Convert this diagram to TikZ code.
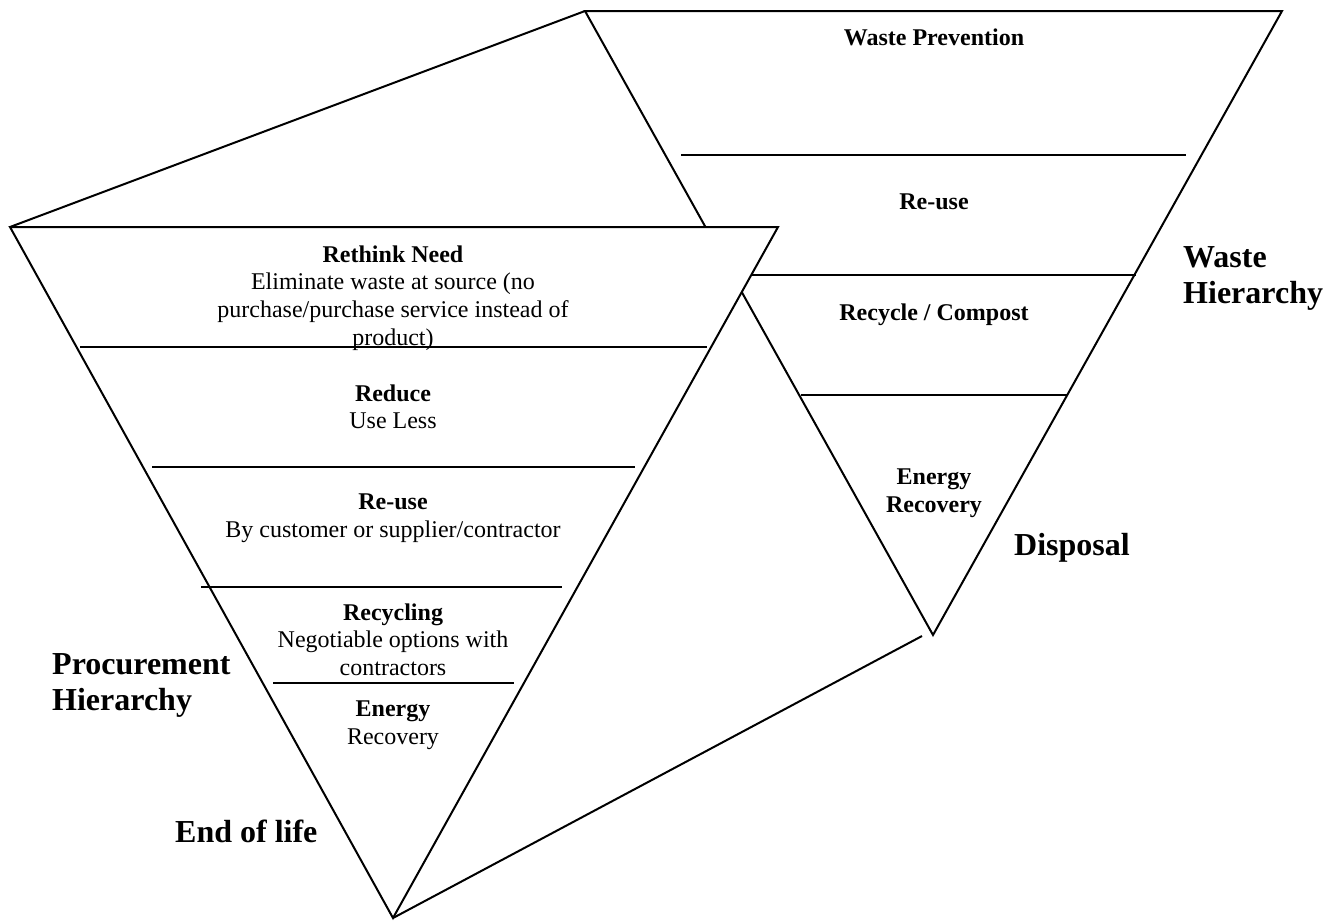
\documentclass[tikz,border=0pt]{standalone}
\usepackage{fontspec}
\setmainfont{Liberation Serif}
\begin{document}
\begin{tikzpicture}[x=1pt,y=-1pt,
  edge/.style={line width=2pt,line join=miter},
  small/.style={font=\fontsize{24}{27.6}\selectfont,align=center,inner sep=0pt,anchor=north},
  smallb/.style={small,font=\fontsize{24}{27.6}\selectfont\bfseries},
  big/.style={font=\fontsize{32}{36}\selectfont\bfseries,align=left,inner sep=0pt,anchor=north west}]
\useasboundingbox (0,0) rectangle (1332,922);
% back (waste) triangle
\coordinate (BL) at (585,11);
\coordinate (BR) at (1282,11);
\coordinate (BB) at (933,635);
% front (procurement) triangle
\coordinate (FL) at (10,227);
\coordinate (FR) at (778,227);
\coordinate (FB) at (393,918);
\coordinate (PE) at (922,636);
% back triangle and its dividers
\draw[edge] (BB) -- (BL) -- (BR) -- cycle;
\draw[edge] (681,155) -- (1186,155);
\draw[edge] (740,275) -- (1136,275);
\draw[edge] (801,395) -- (1068,395);
% connecting lines
\draw[edge] (FL) -- (BL);
\draw[edge] (FB) -- (PE);
% front triangle
\draw[edge,fill=white] (FL) -- (FR) -- (FB) -- cycle;
\draw[edge] (80,347) -- (707,347);
\draw[edge] (152,467) -- (635,467);
\draw[edge] (201,587) -- (562,587);
\draw[edge] (273,683) -- (514,683);
% front texts
\node[small] (rethink) at (393,245.5) {{\bfseries Rethink Need}\\Eliminate waste at source (no\\purchase/purchase service instead of\\product)};
\node[small] (reduce) at (393,384.5) {{\bfseries Reduce}\\Use Less};
\node[small] (reusef) at (393,493.5) {{\bfseries Re-use}\\By customer or supplier/contractor};
\node[small] (recycling) at (393,603.5) {{\bfseries Recycling}\\Negotiable options with\\contractors};
\node[small] (energyf) at (393,700.5) {{\bfseries Energy}\\Recovery};
% back texts
\node[smallb] (prevention) at (934,28.5) {Waste Prevention};
\node[smallb] (reuseb) at (934,193.5) {Re-use};
\node[smallb] (recycleb) at (934,303.5) {Recycle / Compost};
\node[smallb] (energyb) at (934,468.5) {Energy\\Recovery};
% big labels
\node[big] (wastehier) at (1183,246) {Waste\\Hierarchy};
\node[big,anchor=base west] (disposal) at (1014,555) {Disposal};
\node[big] (prochier) at (52,653.5) {Procurement\\Hierarchy};
\node[big,anchor=base west] (endlife) at (175,842) {End of life};
\end{tikzpicture}
\end{document}
